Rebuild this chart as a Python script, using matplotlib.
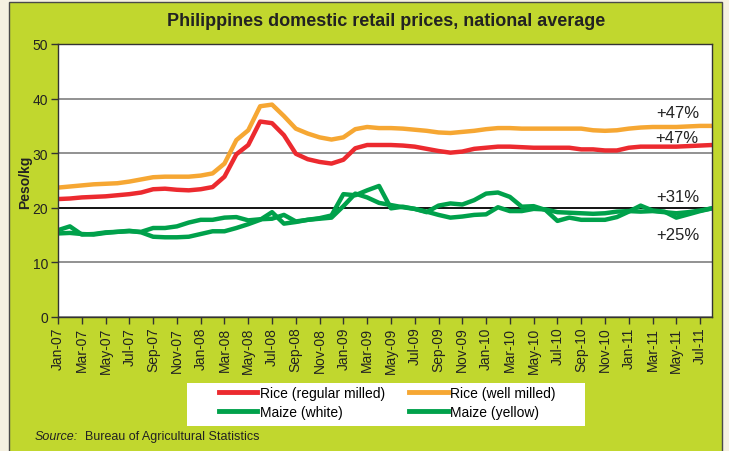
import numpy as np
import pandas as pd
import matplotlib
matplotlib.use('Agg')
import matplotlib.pyplot as plt
from matplotlib.patches import Rectangle

plt.rcParams['font.family'] = ['Liberation Sans', 'DejaVu Sans']

# monthly categories, Jan-07 .. Aug-11
months = pd.date_range('2007-01-01', periods=56, freq='MS')
month_labels = [d.strftime('%b-%y') for d in months]

# Peso/kg
rice_regular = [21.6, 21.7, 21.9, 22.0, 22.1, 22.3, 22.5, 22.8, 23.4, 23.5,
                23.3, 23.2, 23.4, 23.8, 25.7, 29.8, 31.5, 35.8, 35.5, 33.3,
                29.9, 28.9, 28.4, 28.1, 28.8, 30.9, 31.5, 31.5, 31.5, 31.4,
                31.2, 30.8, 30.4, 30.1, 30.3, 30.8, 31.0, 31.2, 31.2, 31.1,
                31.0, 31.0, 31.0, 31.0, 30.7, 30.7, 30.5, 30.5, 31.0, 31.2,
                31.2, 31.2, 31.2, 31.3, 31.4, 31.5]
rice_well = [23.7, 23.9, 24.1, 24.3, 24.4, 24.5, 24.8, 25.2, 25.6, 25.7,
             25.7, 25.7, 25.9, 26.3, 28.1, 32.4, 34.2, 38.6, 38.9, 36.8,
             34.5, 33.6, 32.9, 32.5, 32.9, 34.4, 34.8, 34.6, 34.6, 34.5,
             34.3, 34.1, 33.8, 33.7, 33.9, 34.1, 34.4, 34.6, 34.6, 34.5,
             34.5, 34.5, 34.5, 34.5, 34.5, 34.2, 34.1, 34.2, 34.5, 34.7,
             34.8, 34.8, 34.8, 34.9, 35.0, 35.0]
maize_white = [15.3, 15.4, 15.2, 15.1, 15.4, 15.6, 15.7, 15.6, 16.3, 16.3,
               16.6, 17.3, 17.8, 17.8, 18.2, 18.3, 17.7, 17.9, 18.0, 18.7,
               17.5, 17.8, 18.1, 18.6, 22.5, 22.3, 23.2, 24.0, 19.9, 20.2,
               19.8, 19.2, 20.4, 20.8, 20.6, 21.4, 22.6, 22.8, 22.0, 20.2,
               20.3, 19.6, 17.6, 18.2, 17.8, 17.8, 17.8, 18.3, 19.3, 20.4,
               19.5, 19.3, 18.2, 18.8, 19.4, 19.9]
maize_yellow = [15.9, 16.6, 15.1, 15.2, 15.5, 15.6, 15.8, 15.5, 14.7, 14.6,
                14.6, 14.7, 15.2, 15.7, 15.7, 16.3, 17.0, 17.8, 19.2, 17.1,
                17.4, 17.8, 18.0, 18.2, 20.3, 22.6, 21.9, 20.9, 20.5, 20.1,
                19.8, 19.3, 18.7, 18.2, 18.4, 18.7, 18.8, 20.1, 19.4, 19.4,
                19.8, 19.7, 19.2, 19.1, 19.0, 18.9, 19.0, 19.3, 19.4, 19.3,
                19.4, 19.2, 19.0, 19.2, 19.5, 19.9]

changes = ['+47%', '+47%', '+31%', '+25%']

red = '#ec2a2f'
orange = '#f6a733'
green = '#00a14b'
panel = '#c1d72e'

fig = plt.figure(figsize=(7.29, 4.52), dpi=100)
fig.patch.set_facecolor('#f5f1e1')
fig.add_artist(Rectangle((9 / 729, -0.02), 713 / 729, 1 - 3 / 452 + 0.02,
                         transform=fig.transFigure, facecolor=panel,
                         edgecolor='#4a4a4a', lw=1, zorder=0))
# white legend box
fig.add_artist(Rectangle((187 / 729, 1 - 427 / 452), 398 / 729, 43 / 452,
                         transform=fig.transFigure, facecolor='white',
                         edgecolor='none', zorder=1))

ax = fig.add_axes([58 / 729, 1 - 318 / 452, 654 / 729, 273 / 452])
x = np.arange(len(months))

l1, = ax.plot(x, rice_regular, color=red, lw=3.2, label='Rice (regular milled)')
l2, = ax.plot(x, rice_well, color=orange, lw=3.2, label='Rice (well milled)')
l3, = ax.plot(x, maize_white, color=green, lw=3.2, label='Maize (white)')
l4, = ax.plot(x, maize_yellow, color=green, lw=3.2, label='Maize (yellow)')

ax.set_xlim(0, 55)
ax.set_ylim(0, 50)
ax.set_yticks(range(0, 51, 10))
ax.set_xticks(x[::2])
ax.set_xticklabels(month_labels[::2], rotation=90)
ax.yaxis.grid(True, color='#7f7f7f', lw=1.2)
ax.axhline(20, color='black', lw=1.2, zorder=1.5)
ax.set_axisbelow(True)
for s in ax.spines.values():
    s.set_color('#333333')
    s.set_linewidth(1)
ax.tick_params(direction='out', length=5, width=1, color='#333333',
               labelcolor='#222222', labelsize=10, pad=2)

# change labels at the right end
ax.text(52.1, 37.4, changes[0], ha='center', va='center', fontsize=12, color='#222222')
ax.text(52.0, 32.9, changes[1], ha='center', va='center', fontsize=12, color='#222222')
ax.text(52.1, 22.1, changes[2], ha='center', va='center', fontsize=12, color='#222222')
ax.text(52.1, 15.1, changes[3], ha='center', va='center', fontsize=12, color='#222222')

fig.text(0.530, 1 - 22 / 452, 'Philippines domestic retail prices, national average',
         ha='center', va='center', fontsize=13, fontweight='bold', color='#222222',
         family=['Liberation Sans Narrow', 'Liberation Sans', 'DejaVu Sans'])
fig.text(25 / 729, 1 - 182 / 452, 'Peso/kg', rotation=90, ha='center', va='center',
         fontsize=10, fontweight='bold', color='#222222')

leg = fig.legend([l1, l3, l2, l4],
                 ['Rice (regular milled)', 'Maize (white)', 'Rice (well milled)', 'Maize (yellow)'],
                 ncol=2, loc='center', bbox_to_anchor=(387 / 729, 1 - 403.5 / 452),
                 fontsize=10, frameon=False, handlelength=2.8,
                 handletextpad=0.15, columnspacing=1.75, labelspacing=0.4,
                 borderpad=0.0)
leg.set_zorder(2)
for h in leg.get_lines():
    h.set_linewidth(3.5)

fig.text(35 / 729, 1 - 437 / 452, 'Source:', style='italic', fontsize=9,
         va='center', color='#222222')
fig.text(85 / 729, 1 - 437 / 452, 'Bureau of Agricultural Statistics', fontsize=9,
         va='center', color='#222222')

fig.savefig('out.png', dpi=100, facecolor=fig.get_facecolor())
